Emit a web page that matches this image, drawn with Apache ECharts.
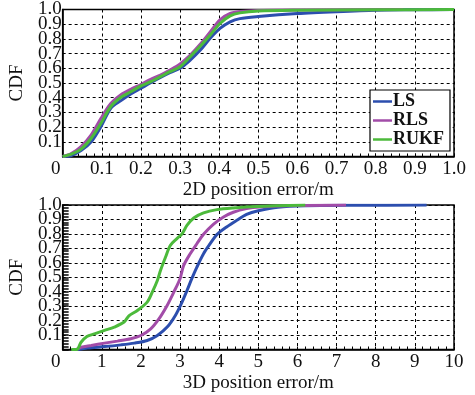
<!DOCTYPE html>
<html>
<head>
<meta charset="utf-8">
<script src="https://cdn.jsdelivr.net/npm/echarts@6/dist/echarts.min.js"></script>
<style>html,body{margin:0;padding:0;background:#fff}#c{width:475px;height:395px}</style>
</head>
<body>
<div id="c"></div>
<script>
// ---- data ----
const seriesNames = ['LS', 'RLS', 'RUKF'];
const xTicks2D = ['0','0.1','0.2','0.3','0.4','0.5','0.6','0.7','0.8','0.9','1.0'];
const xTicks3D = ['0','1','2','3','4','5','6','7','8','9','10'];
const yTicks = ['','0.1','0.2','0.3','0.4','0.5','0.6','0.7','0.8','0.9','1.0'];

const ls2d = [[0,0],[0.022,0.007],[0.047,0.04],[0.073,0.10],[0.098,0.204],[0.123,0.328],[0.149,0.38],[0.174,0.425],[0.2,0.464],[0.225,0.502],[0.25,0.538],[0.274,0.57],[0.3,0.6],[0.326,0.656],[0.352,0.724],[0.377,0.804],[0.402,0.871],[0.428,0.916],[0.453,0.938],[0.5,0.952],[0.6,0.972],[0.7,0.985],[0.8,0.995],[0.9,0.998],[1.0,1.0]];
const rls2d = [[0,0],[0.022,0.02],[0.047,0.068],[0.073,0.147],[0.098,0.26],[0.123,0.36],[0.149,0.42],[0.174,0.457],[0.2,0.49],[0.225,0.525],[0.25,0.554],[0.274,0.588],[0.3,0.63],[0.326,0.69],[0.352,0.765],[0.377,0.848],[0.402,0.93],[0.428,0.973],[0.453,0.986],[0.5,0.994],[0.6,0.997],[0.87,1.0]];
const rukf2d = [[0,0],[0.022,0.016],[0.047,0.05],[0.073,0.124],[0.098,0.226],[0.123,0.34],[0.149,0.403],[0.174,0.44],[0.2,0.48],[0.225,0.509],[0.25,0.543],[0.274,0.577],[0.3,0.611],[0.326,0.679],[0.352,0.751],[0.377,0.826],[0.402,0.905],[0.428,0.957],[0.453,0.977],[0.5,0.99],[0.6,0.995],[0.8,0.998],[1.0,1.0]];

const ls3d = [[0.39,0],[0.64,0.01],[1.07,0.02],[1.49,0.032],[1.83,0.044],[2.16,0.062],[2.42,0.097],[2.67,0.155],[2.88,0.236],[3.05,0.328],[3.18,0.41],[3.3,0.49],[3.43,0.57],[3.6,0.663],[3.77,0.732],[3.94,0.795],[4.19,0.848],[4.45,0.894],[4.7,0.935],[5.0,0.96],[5.5,0.985],[6.2,0.995],[7.5,0.998],[9.3,1.0]];
const rls3d = [[0.35,0],[0.47,0.016],[0.73,0.028],[1.07,0.044],[1.4,0.058],[1.74,0.074],[2.0,0.097],[2.25,0.143],[2.46,0.212],[2.67,0.305],[2.84,0.397],[3.0,0.49],[3.09,0.58],[3.26,0.663],[3.43,0.732],[3.6,0.797],[3.85,0.866],[4.11,0.917],[4.36,0.95],[4.7,0.975],[5.04,0.986],[6.0,0.996],[7.24,1.0]];
const rukf3d = [[0.22,0],[0.36,0],[0.47,0.05],[0.62,0.09],[0.81,0.108],[1.07,0.132],[1.32,0.155],[1.57,0.19],[1.7,0.235],[1.91,0.27],[2.16,0.328],[2.29,0.397],[2.42,0.478],[2.5,0.547],[2.63,0.64],[2.75,0.72],[2.92,0.767],[3.05,0.80],[3.18,0.86],[3.35,0.91],[3.6,0.945],[3.94,0.968],[4.36,0.98],[4.95,0.99],[6.2,1.0]];

const colors = ['#2c4eae', '#a24ca8', '#4cba3b'];

// ---- chart ----
const FONT = 'Liberation Serif';
const chart = echarts.init(document.getElementById('c'), null, {renderer: 'canvas'});
const splitLine = {show: true, lineStyle: {color: '#000', type: [3, 3], width: 1}};
const axisLine = {show: true, lineStyle: {color: '#000', width: 1.5}};
const labelBase = {fontFamily: FONT, fontSize: 19, color: '#111'};
const zeroRich = {z: {fontFamily: FONT, fontSize: 19, color: '#111', padding: [0, 14, 0, 0]}};

function xAxisCfg(gridIndex, max, interval, ticks, name, step) {
  return {
    type: 'value', gridIndex, min: 0, max, interval,
    name, nameLocation: 'middle', nameGap: 24,
    nameTextStyle: {fontFamily: FONT, fontSize: 19, color: '#111'},
    axisLine,
    axisTick: {show: true, inside: true, length: 3, lineStyle: {color: '#000'}},
    minorTick: {show: true, splitNumber: 5, length: 3, lineStyle: {color: '#000'}},
    splitLine,
    axisLabel: Object.assign({}, labelBase, {
      margin: 3, showMaxLabel: true, showMinLabel: true,
      rich: zeroRich,
      formatter: v => { const i = Math.round(v / step); return i === 0 ? '{z|' + ticks[0] + '}' : ticks[i]; }
    })
  };
}
function yAxisCfg(gridIndex, dense) {
  return {
    type: 'value', gridIndex, min: 0, max: 1, interval: 0.1,
    name: 'CDF', nameLocation: 'middle', nameGap: 27, nameRotate: 90,
    nameTextStyle: {fontFamily: FONT, fontSize: 19, color: '#111'},
    axisLine,
    axisTick: {show: dense, inside: true, length: 6, lineStyle: {color: '#000', width: 1.5}},
    minorTick: {show: dense, splitNumber: 5, length: 6, lineStyle: {color: '#000', width: 1.5}},
    splitLine,
    axisLabel: Object.assign({}, labelBase, {
      margin: 1, showMaxLabel: false, showMinLabel: false,
      formatter: v => yTicks[Math.round(v * 10)]
    })
  };
}
// companion axis carrying only the top "1.0" label (avoids overlap hiding)
function yTopLabelAxis(gridIndex) {
  return {
    type: 'value', gridIndex, min: 0, max: 1, interval: 1, position: 'left',
    axisLine: {show: false}, axisTick: {show: false}, splitLine: {show: false},
    axisLabel: Object.assign({}, labelBase, {
      margin: 1, showMaxLabel: true,
      formatter: v => v === 1 ? yTicks[10] : ''
    })
  };
}
function lineSeries(name, data, idx, xi) {
  return {
    name, type: 'line', data, xAxisIndex: xi, yAxisIndex: xi,
    showSymbol: false, symbol: 'none', smooth: 0.3,
    lineStyle: {color: colors[idx], width: 3},
    itemStyle: {color: colors[idx]},
    animation: false
  };
}

chart.setOption({
  animation: false,
  grid: [
    {left: 59, top: 8.5, width: 395, height: 148, show: true, borderColor: '#000', borderWidth: 1.5, backgroundColor: 'transparent'},
    {left: 59, top: 205, width: 395, height: 144.5, show: true, borderColor: '#000', borderWidth: 1.5, backgroundColor: 'transparent'}
  ],
  xAxis: [
    xAxisCfg(0, 1, 0.1, xTicks2D, '2D position error/m', 0.1),
    xAxisCfg(1, 10, 1, xTicks3D, '3D position error/m', 1)
  ],
  yAxis: [yAxisCfg(0, false), yAxisCfg(1, true), yTopLabelAxis(0), yTopLabelAxis(1)],
  legend: {
    data: seriesNames.map(n => ({name: n, icon: 'rect'})), orient: 'vertical', left: 370, top: 90,
    padding: [2, 6, 2, 3], itemGap: 0, itemWidth: 19, itemHeight: 2.5,
    backgroundColor: '#fff', borderColor: '#000', borderWidth: 1.2, borderRadius: 0,
    textStyle: {fontFamily: FONT, fontSize: 18, fontWeight: 'bold', color: '#111', lineHeight: 19, padding: [0, 0, 0, -4]}
  },
  series: [
    lineSeries('LS', ls2d, 0, 0), lineSeries('RLS', rls2d, 1, 0), lineSeries('RUKF', rukf2d, 2, 0),
    lineSeries('LS', ls3d, 0, 1), lineSeries('RLS', rls3d, 1, 1), lineSeries('RUKF', rukf3d, 2, 1)
  ]
});
</script>
</body>
</html>
